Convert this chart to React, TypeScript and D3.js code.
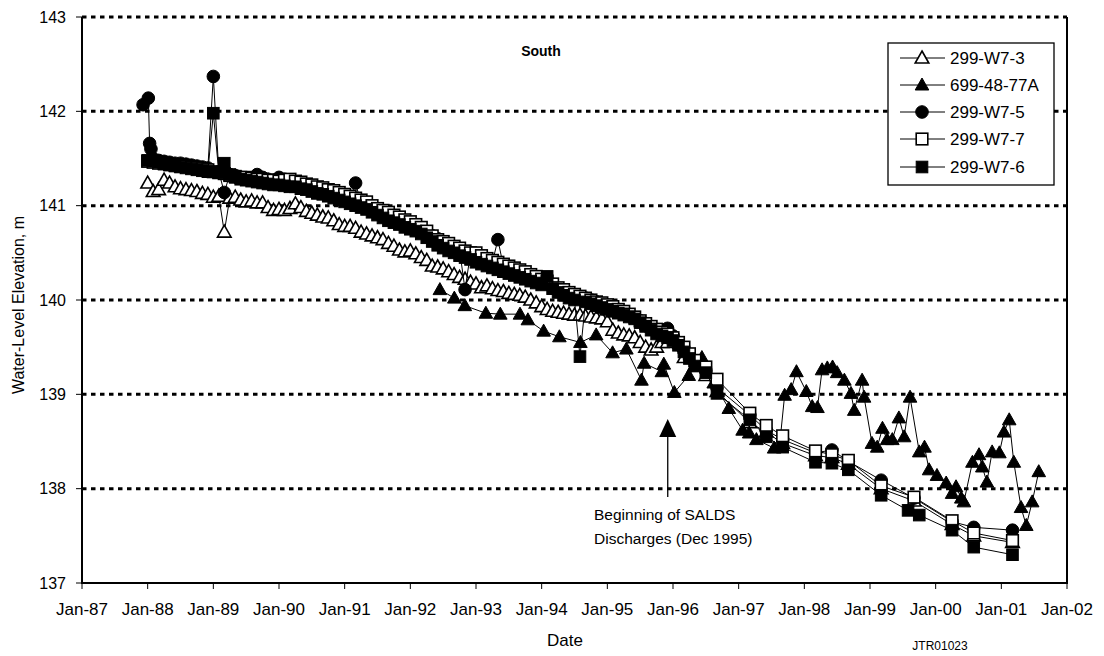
import React from "react";
import * as d3 from "d3";

const W = 1104;
const H = 656;
const PLOT = { left: 82, right: 1067, top: 17, bottom: 583 };

const xTickYears = [1987, 1988, 1989, 1990, 1991, 1992, 1993, 1994, 1995, 1996, 1997, 1998, 1999, 2000, 2001, 2002];
const xTickLabels = ["Jan-87", "Jan-88", "Jan-89", "Jan-90", "Jan-91", "Jan-92", "Jan-93", "Jan-94", "Jan-95", "Jan-96", "Jan-97", "Jan-98", "Jan-99", "Jan-00", "Jan-01", "Jan-02"];
const yTicks = [137, 138, 139, 140, 141, 142, 143];

// 299-W7-3 monthly readings Jan-88 .. Dec-95
const w73Monthly = [
  141.24, 141.15, 141.17, 141.27, 141.24, 141.2, 141.18, 141.17, 141.16, 141.15, 141.13, 141.12,
  141.09, 141.1, 140.72, 141.08, 141.09, 141.06, 141.04, 141.05, 141.03, 141.03, 140.98, 140.95,
  140.96, 140.95, 140.97, 141.02, 140.98, 140.94, 140.92, 140.9, 140.88, 140.87, 140.84, 140.8,
  140.78, 140.78, 140.76, 140.72, 140.7, 140.68, 140.66, 140.64, 140.6, 140.57, 140.53, 140.51,
  140.52, 140.49, 140.45, 140.42, 140.36, 140.35, 140.33, 140.3, 140.27, 140.24, 140.22, 140.19,
  140.17, 140.13, 140.15, 140.12, 140.1, 140.09, 140.07, 140.06, 140.05, 140.03, 140.0, 139.97,
  139.93, 139.9, 139.88, 139.87, 139.86, 139.85, 139.84, 139.84, 139.83, 139.82, 139.81, 139.8,
  139.77, 139.68, 139.65, 139.63, 139.62, 139.6, 139.55, 139.5, 139.47, 139.5, 139.55, 139.55,
];
const w73Late: [number, number][] = [
  [1996.17, 139.39], [1996.33, 139.3], [1996.5, 139.2], [1996.67, 139.03], [1997.17, 138.7],
  [1997.42, 138.6], [1997.67, 138.48], [1998.17, 138.35], [1998.42, 138.33], [1998.67, 138.26],
  [1999.17, 138.0], [1999.67, 137.87], [2000.25, 137.62], [2000.58, 137.5], [2001.17, 137.43],
];

// 699-48-77A (decimal year, elevation)
const w77A: [number, number][] = [
  [1992.45, 140.11], [1992.67, 140.02], [1992.83, 139.94], [1993.15, 139.86], [1993.37, 139.85],
  [1993.67, 139.85], [1993.79, 139.79], [1994.03, 139.67], [1994.27, 139.61], [1994.59, 139.55],
  [1994.83, 139.63], [1995.08, 139.44], [1995.29, 139.48], [1995.52, 139.15], [1995.56, 139.33],
  [1995.83, 139.24], [1995.86, 139.32], [1996.02, 139.02], [1996.24, 139.2], [1996.44, 139.39],
  [1996.62, 139.12], [1996.85, 138.85], [1997.06, 138.62], [1997.16, 138.59], [1997.27, 138.52],
  [1997.54, 138.43], [1997.62, 138.44], [1997.7, 138.99], [1997.8, 139.05], [1997.88, 139.24],
  [1998.03, 139.03], [1998.12, 138.87], [1998.2, 138.86], [1998.27, 139.26], [1998.35, 139.28],
  [1998.43, 139.29], [1998.5, 139.23], [1998.61, 139.15], [1998.71, 139.01], [1998.76, 138.83],
  [1998.88, 139.15], [1998.91, 138.97], [1999.03, 138.48], [1999.11, 138.44], [1999.19, 138.64],
  [1999.26, 138.52], [1999.34, 138.52], [1999.44, 138.75], [1999.52, 138.55], [1999.61, 138.97],
  [1999.75, 138.39], [1999.83, 138.44], [1999.9, 138.2], [2000.02, 138.14], [2000.16, 138.06],
  [2000.25, 137.95], [2000.31, 138.02], [2000.39, 137.9], [2000.43, 137.86], [2000.56, 138.28],
  [2000.66, 138.36], [2000.71, 138.23], [2000.78, 138.07], [2000.86, 138.39], [2000.97, 138.38],
  [2001.04, 138.6], [2001.12, 138.73], [2001.19, 138.28], [2001.3, 137.8], [2001.38, 137.61],
  [2001.47, 137.86], [2001.57, 138.18],
];

// 299-W7-5 early readings, monthly Feb-88 .. May-96, then later readings
const w75Early: [number, number][] = [[1987.93, 142.07], [1988.01, 142.14], [1988.03, 141.66], [1988.05, 141.6]];
const w75Monthly = [
  141.5, 141.48, 141.47, 141.46, 141.45, 141.45, 141.44, 141.43, 141.42, 141.41, 141.4,
  142.37, 141.36, 141.14, 141.33, 141.32, 141.3, 141.29, 141.28, 141.33, 141.3, 141.28, 141.27,
  141.3, 141.28, 141.27, 141.25, 141.24, 141.22, 141.2, 141.18, 141.16, 141.15, 141.13, 141.12,
  141.1, 141.08, 141.24, 141.02, 141.0, 140.98, 140.95, 140.93, 140.9, 140.88, 140.86, 140.83,
  140.8, 140.77, 140.74, 140.71, 140.68, 140.65, 140.62, 140.59, 140.56, 140.53, 140.11, 140.5,
  140.46, 140.44, 140.42, 140.4, 140.64, 140.36, 140.34, 140.32, 140.3, 140.28, 140.26, 140.24,
  140.21, 140.18, 140.15, 140.12, 140.1, 140.07, 140.05, 140.03, 140.02, 140.0, 139.98, 139.96,
  139.94, 139.92, 139.9, 139.87, 139.84, 139.81, 139.78, 139.74, 139.7, 139.67, 139.68, 139.7,
  139.62, 139.55, 139.48, 139.42, 139.35,
];
const w75Late: [number, number][] = [
  [1996.5, 139.25], [1996.67, 139.07], [1997.17, 138.78], [1997.42, 138.62], [1997.67, 138.52],
  [1998.17, 138.38], [1998.42, 138.41], [1998.67, 138.29], [1999.17, 138.09], [1999.67, 137.9],
  [2000.25, 137.65], [2000.58, 137.59], [2001.17, 137.56],
];

// 299-W7-7 monthly Jan-88 .. May-96, then later readings
const w77Monthly = [
  141.47, 141.46, 141.45, 141.45, 141.44, 141.43, 141.42, 141.42, 141.41, 141.4, 141.39, 141.38,
  141.36, 141.35, 141.34, 141.32, 141.31, 141.3, 141.3, 141.29, 141.28, 141.28, 141.27, 141.27,
  141.26, 141.27, 141.28, 141.26, 141.25, 141.23, 141.22, 141.2, 141.19, 141.17, 141.16, 141.14,
  141.12, 141.1, 141.08, 141.06, 141.04, 141.0, 140.97, 140.95, 140.93, 140.9, 140.88, 140.85,
  140.83, 140.8, 140.77, 140.73, 140.68, 140.64, 140.62, 140.6, 140.57, 140.55, 140.52, 140.5,
  140.5, 140.47, 140.44, 140.42, 140.4, 140.38, 140.36, 140.34, 140.32, 140.3, 140.27, 140.25,
  140.22, 140.2, 140.17, 140.13, 140.11, 140.08, 140.06, 140.04, 140.02, 140.0, 139.98, 139.97,
  139.95, 139.93, 139.9, 139.88, 139.85, 139.82, 139.78, 139.75, 139.72, 139.69, 139.66, 139.64,
  139.6, 139.55, 139.5, 139.43, 139.36,
];
const w77Late: [number, number][] = [
  [1996.5, 139.29], [1996.67, 139.16], [1997.17, 138.8], [1997.42, 138.67], [1997.67, 138.56],
  [1998.17, 138.4], [1998.42, 138.36], [1998.67, 138.3], [1999.17, 138.03], [1999.67, 137.91],
  [2000.25, 137.66], [2000.58, 137.53], [2001.17, 137.45],
];

// 299-W7-6 monthly Jan-88 .. May-96, then later readings
const w76Monthly = [
  141.48, 141.47, 141.46, 141.44, 141.43, 141.42, 141.41, 141.4, 141.39, 141.38, 141.37, 141.36,
  141.98, 141.35, 141.45, 141.33, 141.3, 141.28, 141.27, 141.26, 141.25, 141.24, 141.23, 141.22,
  141.22, 141.21, 141.2, 141.2, 141.18, 141.17, 141.15, 141.13, 141.12, 141.1, 141.08, 141.06,
  141.04, 141.02, 141.0, 140.98, 140.96, 140.93, 140.9, 140.87, 140.84, 140.82, 140.8, 140.77,
  140.75, 140.73, 140.7, 140.66, 140.62, 140.58, 140.55, 140.52, 140.5, 140.47, 140.45, 140.43,
  140.4, 140.38, 140.36, 140.34, 140.32, 140.3, 140.28, 140.26, 140.24, 140.22, 140.2, 140.18,
  140.16, 140.25, 140.12, 140.08, 140.05, 140.02, 140.0, 139.4, 139.98, 139.96, 139.94, 139.92,
  139.9, 139.88, 139.86, 139.84, 139.82, 139.8, 139.76, 139.72, 139.68, 139.64, 139.62, 139.6,
  139.57, 139.52, 139.45, 139.38, 139.3,
];
const w76Late: [number, number][] = [
  [1996.5, 139.23], [1996.67, 139.01], [1997.17, 138.73], [1997.42, 138.55], [1997.67, 138.44],
  [1998.17, 138.28], [1998.42, 138.27], [1998.67, 138.2], [1999.17, 137.93], [1999.58, 137.77],
  [1999.75, 137.72], [2000.25, 137.56], [2000.58, 137.38], [2001.17, 137.3],
];

// attach month dates (decimal years) to a run of monthly readings
function monthly(startYear: number, startMonth: number, values: number[]): [number, number][] {
  return values.map((v, i) => [startYear + (startMonth - 1 + i) / 12, v] as [number, number]);
}

type Shape = "triangle" | "circle" | "square";
const seriesNames = ["299-W7-3", "699-48-77A", "299-W7-5", "299-W7-7", "299-W7-6"];
const seriesShapes: Shape[] = ["triangle", "triangle", "circle", "square", "square"];
const seriesFilled = [false, true, true, false, true];
const seriesData: [number, number][][] = [
  [...monthly(1988, 1, w73Monthly), ...w73Late],
  w77A,
  [...w75Early, ...monthly(1988, 2, w75Monthly), ...w75Late],
  [...monthly(1988, 1, w77Monthly), ...w77Late],
  [...monthly(1988, 1, w76Monthly), ...w76Late],
];

const FONT = "'Liberation Sans', Arial, Helvetica, sans-serif";

function Marker({ shape, filled, x, y }: { shape: Shape; filled: boolean; x: number; y: number }) {
  const fill = filled ? "#000" : "#fff";
  const sw = filled ? 1 : 1.6;
  if (shape === "triangle") {
    return <path d={`M${x},${y - 7}L${x + 6.8},${y + 5}L${x - 6.8},${y + 5}Z`} fill={fill} stroke="#000" strokeWidth={sw} strokeLinejoin="miter" />;
  }
  if (shape === "circle") {
    return <circle cx={x} cy={y} r={6.3} fill={fill} stroke="#000" strokeWidth={sw} />;
  }
  return <rect x={x - 5.8} y={y - 5.8} width={11.6} height={11.6} fill={fill} stroke="#000" strokeWidth={sw} />;
}

export default function App() {
  const x = d3.scaleLinear().domain([1987, 2002]).range([PLOT.left, PLOT.right]);
  const y = d3.scaleLinear().domain([137, 143]).range([PLOT.bottom, PLOT.top]);
  const line = d3.line<[number, number]>().x((d) => x(d[0])).y((d) => y(d[1]));

  const legendX = 888, legendY = 43, legendW = 166, legendH = 142;
  const legendRowY = [58, 85, 112, 139, 167];

  const arrowX = x(1995.92);

  return (
    <svg width={W} height={H} style={{ position: "absolute", left: 0, top: 0, background: "#fff" }} fontFamily={FONT}>
      <rect x={0} y={0} width={W} height={H} fill="#fff" />
      {/* gridlines */}
      {yTicks.filter((t) => t > 137).map((t) => (
        <line key={t} x1={PLOT.left} x2={PLOT.right} y1={y(t)} y2={y(t)} stroke="#000" strokeWidth={3} strokeDasharray="4.5,4.5" />
      ))}
      {/* axes */}
      <line x1={PLOT.left} x2={PLOT.left} y1={PLOT.top} y2={PLOT.bottom} stroke="#000" strokeWidth={2} />
      <line x1={PLOT.right} x2={PLOT.right} y1={PLOT.top} y2={PLOT.bottom} stroke="#000" strokeWidth={2} />
      <line x1={PLOT.left - 1} x2={PLOT.right + 1} y1={PLOT.bottom} y2={PLOT.bottom} stroke="#000" strokeWidth={2} />
      {yTicks.map((t) => (
        <g key={t}>
          <line x1={PLOT.left - 6} x2={PLOT.left} y1={y(t)} y2={y(t)} stroke="#000" strokeWidth={1} />
          <text x={PLOT.left - 16} y={y(t) + 5.5} textAnchor="end" fontSize={16}>{t}</text>
        </g>
      ))}
      {xTickYears.map((t, i) => (
        <g key={t}>
          <line x1={x(t)} x2={x(t)} y1={PLOT.bottom} y2={PLOT.bottom + 6} stroke="#000" strokeWidth={1} />
          <text x={x(t)} y={615} textAnchor="middle" fontSize={17}>{xTickLabels[i]}</text>
        </g>
      ))}
      <text x={565} y={646} textAnchor="middle" fontSize={17}>Date</text>
      <text x={940} y={650} textAnchor="middle" fontSize={12}>JTR01023</text>
      <text transform={`translate(24,${305}) rotate(-90)`} textAnchor="middle" fontSize={16}>Water-Level Elevation, m</text>
      <text x={541} y={56} textAnchor="middle" fontSize={14} fontWeight="bold">South</text>

      {/* series */}
      {seriesData.map((data, si) => (
        <g key={seriesNames[si]}>
          <path d={line(data) || ""} fill="none" stroke="#000" strokeWidth={1} />
          {data.map((d, i) => (
            <Marker key={i} shape={seriesShapes[si]} filled={seriesFilled[si]} x={x(d[0])} y={y(d[1])} />
          ))}
        </g>
      ))}

      {/* annotation */}
      <line x1={arrowX} x2={arrowX} y1={497} y2={436} stroke="#000" strokeWidth={1.3} />
      <path d={`M${arrowX},419L${arrowX + 8.5},437L${arrowX - 8.5},437Z`} fill="#000" />
      <text x={594} y={520} fontSize={15.5}>Beginning of SALDS</text>
      <text x={594} y={544} fontSize={15.5}>Discharges (Dec 1995)</text>

      {/* legend */}
      <rect x={legendX} y={legendY} width={legendW} height={legendH} fill="#fff" stroke="#000" strokeWidth={1.3} />
      {seriesNames.map((name, i) => (
        <g key={name}>
          <line x1={900} x2={945} y1={legendRowY[i]} y2={legendRowY[i]} stroke="#000" strokeWidth={1} />
          <Marker shape={seriesShapes[i]} filled={seriesFilled[i]} x={922} y={legendRowY[i]} />
          <text x={950} y={legendRowY[i] + 6} fontSize={17}>{name}</text>
        </g>
      ))}
    </svg>
  );
}
